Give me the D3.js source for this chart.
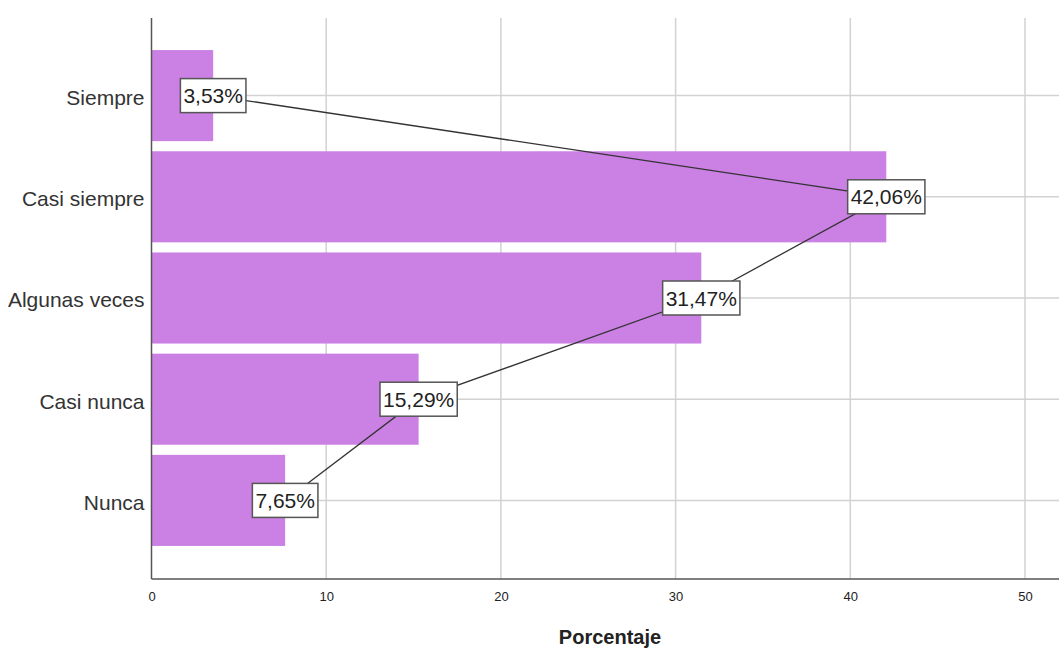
<!DOCTYPE html>
<html>
<head>
<meta charset="utf-8">
<script src="https://cdn.jsdelivr.net/npm/d3@7"></script>
<style>
  html, body { margin: 0; padding: 0; background: #fff; }
  svg { display: block; }
</style>
</head>
<body>
<div id="chart"></div>
<script>
'use strict';

// ── Data ───────────────────────────────────────────────────────────────────
const categories = ['Siempre', 'Casi siempre', 'Algunas veces', 'Casi nunca', 'Nunca'];
const percentages = [3.53, 42.06, 31.47, 15.29, 7.65];
const pctLabels = ['3,53%', '42,06%', '31,47%', '15,29%', '7,65%'];
const xTicks = [0, 10, 20, 30, 40, 50];

const rows = categories.map((c, i) => ({ cat: c, value: percentages[i], label: pctLabels[i] }));

// ── Layout ─────────────────────────────────────────────────────────────────
const fullW = 1059, fullH = 648;
const plotTop = 18, plotBottom = 579, plotLeft = 151.5, plotRight = 1059;
const FONT = 'Arial, "Liberation Sans", sans-serif';

const x = d3.scaleLinear().domain([0, 50]).range([plotLeft, 1025]);
const y = d3.scaleBand()
  .domain(categories)
  .range([45, 551])
  .paddingInner(0.1)
  .paddingOuter(0.05);

const svg = d3.select('#chart').append('svg')
  .attr('width', fullW)
  .attr('height', fullH);

// Grid
svg.append('g')
  .selectAll('line')
  .data(xTicks.slice(1))
  .join('line')
  .attr('x1', d => x(d)).attr('x2', d => x(d))
  .attr('y1', plotTop).attr('y2', plotBottom)
  .attr('stroke', '#d2d2d2').attr('stroke-width', 1.5);

svg.append('g')
  .selectAll('line')
  .data(categories)
  .join('line')
  .attr('x1', plotLeft).attr('x2', plotRight)
  .attr('y1', d => y(d) + y.bandwidth() / 2)
  .attr('y2', d => y(d) + y.bandwidth() / 2)
  .attr('stroke', '#d2d2d2').attr('stroke-width', 1.5);

// Bars
svg.append('g')
  .selectAll('rect')
  .data(rows)
  .join('rect')
  .attr('x', x(0))
  .attr('y', d => y(d.cat))
  .attr('width', d => x(d.value) - x(0))
  .attr('height', y.bandwidth())
  .attr('fill', '#cb80e3');

// Axes
svg.append('line')
  .attr('x1', plotLeft).attr('x2', plotLeft)
  .attr('y1', plotTop).attr('y2', plotBottom)
  .attr('stroke', '#555').attr('stroke-width', 1.5);

svg.append('g')
  .attr('transform', `translate(0,${plotBottom})`)
  .call(d3.axisBottom(x).tickValues(xTicks).tickSize(0).tickPadding(13))
  .call(ax => ax.select('.domain').remove())
  .selectAll('text')
  .attr('fill', '#222')
  .attr('font-size', '13px')
  .attr('font-family', FONT);

svg.append('line')
  .attr('x1', plotLeft).attr('x2', plotRight)
  .attr('y1', plotBottom).attr('y2', plotBottom)
  .attr('stroke', '#555').attr('stroke-width', 1.5);

svg.append('g')
  .attr('transform', `translate(${plotLeft},0)`)
  .call(d3.axisLeft(y).tickSize(0).tickPadding(7))
  .call(ax => ax.select('.domain').remove())
  .selectAll('text')
  .attr('dy', '0.45em')
  .attr('fill', '#333')
  .attr('font-size', '21px')
  .attr('font-family', FONT);

// Axis title
svg.append('text')
  .attr('x', 610).attr('y', 644)
  .attr('text-anchor', 'middle')
  .attr('font-size', '20px')
  .attr('font-weight', 'bold')
  .attr('font-family', FONT)
  .attr('fill', '#222')
  .text('Porcentaje');

// Connecting line
const line = d3.line()
  .x(d => x(d.value))
  .y(d => y(d.cat) + y.bandwidth() / 2);

svg.append('path')
  .datum(rows)
  .attr('fill', 'none')
  .attr('stroke', '#333')
  .attr('stroke-width', 1.3)
  .attr('d', line);

// Value labels
const lab = svg.append('g')
  .selectAll('g')
  .data(rows)
  .join('g')
  .attr('transform', d => `translate(${x(d.value)},${y(d.cat) + y.bandwidth() / 2})`);

lab.append('text')
  .attr('text-anchor', 'middle')
  .attr('dominant-baseline', 'central')
  .attr('font-size', '21px')
  .attr('font-family', FONT)
  .attr('fill', '#222')
  .text(d => d.label);

lab.each(function () {
  const g = d3.select(this);
  const bb = g.select('text').node().getBBox();
  g.insert('rect', 'text')
    .attr('x', bb.x - 3)
    .attr('y', -17)
    .attr('width', bb.width + 6)
    .attr('height', 34)
    .attr('fill', '#fff')
    .attr('stroke', '#555')
    .attr('stroke-width', 1.5);
});
</script>
</body>
</html>
